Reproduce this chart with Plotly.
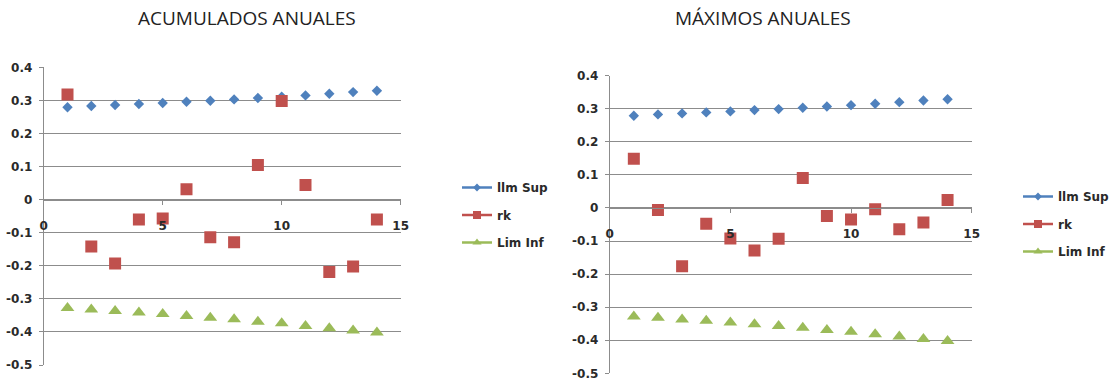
import plotly.graph_objects as go

# ---- data ----
lags = list(range(1, 15))
titles = ["ACUMULADOS ANUALES", "MÁXIMOS ANUALES"]
series_names = ["llm Sup", "rk", "Lim Inf"]

lim_sup = [0.279, 0.283, 0.286, 0.289, 0.292, 0.296, 0.299, 0.303, 0.307, 0.311, 0.315, 0.320, 0.325, 0.329]
lim_inf = [-0.328, -0.332, -0.337, -0.341, -0.346, -0.352, -0.357, -0.362, -0.369, -0.374, -0.382, -0.389, -0.396, -0.402]
rk_acum = [0.318, -0.142, -0.193, -0.060, -0.057, 0.031, -0.114, -0.129, 0.105, 0.298, 0.044, -0.219, -0.202, -0.060]
rk_max = [0.149, -0.006, -0.176, -0.048, -0.092, -0.129, -0.093, 0.091, -0.024, -0.035, -0.004, -0.064, -0.044, 0.024]

y_tickvals = [0.4, 0.3, 0.2, 0.1, 0, -0.1, -0.2, -0.3, -0.4, -0.5]
y_ticktext = ["0.4", "0.3", "0.2", "0.1", "0", "-0.1", "-0.2", "-0.3", "-0.4", "-0.5"]
x_tickvals = [0, 5, 10, 15]
x_ticktext = ["0", "5", "10", "15"]

# ---- style ----
W, H = 1112, 381
colors = ["#4F81BD", "#C0504D", "#9BBB59"]
symbols = ["diamond", "square", "triangle-up"]
sizes = [8, 12, 12]
leg_sizes = [6, 8, 8]
grid = "#8c8c8c"
FONT = "DejaVu Sans"
TFONT = "Open Sans"
tick_font = dict(size=12, family=FONT, color="#2a2a2a", weight="bold")

def px_x(p):
    return p / W

def px_y(p):
    return 1 - p / H

# plot rectangles in pixels: (left, right, top, bottom)
rects = [(43.7, 400.7, 67.3, 365.0), (609.7, 971.7, 75.7, 373.3)]
legend_pos = [(457, 173), (1018, 182)]
title_pos = [(247, 18), (763, 18)]

fig = go.Figure()
rk_sets = [rk_acum, rk_max]

for i in range(2):
    xa = "x" if i == 0 else "x2"
    ya = "y" if i == 0 else "y2"
    lg = "legend" if i == 0 else "legend2"
    data = [lim_sup, rk_sets[i], lim_inf]
    for k in range(3):
        fig.add_trace(go.Scatter(
            x=lags, y=data[k], mode="markers", xaxis=xa, yaxis=ya,
            marker=dict(symbol=symbols[k], size=sizes[k], color=colors[k]),
            showlegend=False, hoverinfo="x+y"))
    for k in range(3):
        fig.add_trace(go.Scatter(
            x=[None], y=[None], mode="lines+markers", xaxis=xa, yaxis=ya,
            name=series_names[k], legend=lg, legendgroup=f"g{i}{k}",
            line=dict(color=colors[k], width=2.5),
            marker=dict(symbol=symbols[k], size=leg_sizes[k], color=colors[k])))

layout = dict(
    width=W, height=H, margin=dict(l=0, r=0, t=0, b=0, autoexpand=False),
    paper_bgcolor="white", plot_bgcolor="white",
    font=dict(family=FONT, color="#222222"),
    annotations=[],
)

for i in range(2):
    l, r, t, b = rects[i]
    sfx = "" if i == 0 else "2"
    ydom = [px_y(b), px_y(t)]
    zero_pos = ydom[0] + (ydom[1] - ydom[0]) * (0.5 / 0.9)
    layout["xaxis" + sfx] = dict(
        domain=[px_x(l), px_x(r)], range=[0, 15], anchor="free", position=zero_pos,
        automargin=False, showgrid=False, zeroline=False, showline=True,
        linecolor=grid, linewidth=1, ticks="outside", ticklen=4, tickcolor=grid,
        tickvals=x_tickvals, ticktext=x_ticktext, ticklabelstandoff=11,
        tickfont=tick_font)
    layout["yaxis" + sfx] = dict(
        domain=ydom, range=[-0.5, 0.4], anchor="x" + sfx, automargin=False,
        showgrid=True, gridcolor=grid, gridwidth=1, zeroline=False,
        showline=True, linecolor=grid, linewidth=1, ticks="outside", ticklen=4,
        tickcolor=grid, tickvals=y_tickvals, ticktext=y_ticktext, ticklabelstandoff=4,
        tickfont=tick_font)
    lx, ly = legend_pos[i]
    layout["legend" + sfx] = dict(
        x=px_x(lx), y=px_y(ly), xanchor="left", yanchor="top",
        bgcolor="rgba(0,0,0,0)", borderwidth=0, traceorder="grouped",
        tracegroupgap=8.5, font=dict(size=12, family=FONT, color="#2a2a2a", weight="bold"),
        itemsizing="trace")
    tx, ty = title_pos[i]
    layout["annotations"].append(dict(
        text=titles[i], x=px_x(tx), y=px_y(ty), xref="paper", yref="paper",
        xanchor="center", yanchor="middle", showarrow=False,
        font=dict(size=19, family=TFONT, color="#222222")))

fig.update_layout(**layout)
fig.write_html("out.html", config={"displayModeBar": False},
               post_script="document.body.style.margin='0px';")
